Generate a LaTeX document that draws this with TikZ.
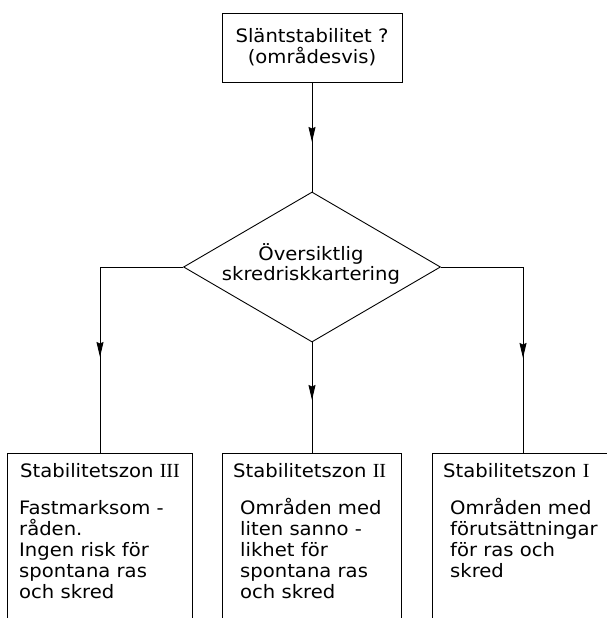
\documentclass[tikz,border=0pt]{standalone}
\usepackage{fontspec}
\setmainfont{DejaVu Sans}[FakeStretch=1.06]
\newfontfamily\numfont{Liberation Serif}
\usetikzlibrary{shapes.geometric,arrows.meta}

\tikzset{
  line/.style={line width=0.9pt},
  arr/.style={line, -{Stealth[length=15pt,width=7pt,inset=1.5pt]}},
  txt/.style={font=\fontsize{18.5}{21}\selectfont, inner sep=0pt},
  lbl/.style={txt, anchor=base west},
  zonebox/.style={minimum height=180pt, inner sep=0pt, anchor=north},
}
\newcommand{\zonenum}[1]{{\numfont\fontsize{20}{21}\selectfont #1}}

\begin{document}
\begin{tikzpicture}[x=1pt,y=-1pt]
\useasboundingbox (0,0) rectangle (607,618);
\clip (0,0) rectangle (607,618);

% question box
\node[draw, line, minimum width=180pt, minimum height=69pt, inner sep=0pt,
      txt, align=center] (start) at (312,47.5) {Släntstabilitet ?\\(områdesvis)};

% decision diamond
\node[diamond, draw, line, minimum width=257pt, minimum height=150pt,
      inner sep=0pt] (survey) at (312,267) {};
\node[txt, font=\fontsize{18.5}{20}\selectfont, align=center] (surveytext)
      at (311,264) {Översiktlig\\skredriskkartering};

% zone boxes, open at the bottom
\node[zonebox, minimum width=184pt] (z3) at (100,453) {};
\node[zonebox, minimum width=178pt] (z2) at (312,453) {};
\node[zonebox, minimum width=180pt] (z1) at (523,453) {};
\foreach \z in {z3,z2,z1}
  \draw[line] (\z.south west) -- (\z.north west) -- (\z.north east) -- (\z.south east);

% connectors: full lines, then the arrowheads placed midway on top
\coordinate (tip0) at (312,142);
\coordinate (tip3) at (100,357);
\coordinate (tip2) at (312,400);
\coordinate (tip1) at (523,358);
\draw[line] (start.south) -- (survey.north);
\draw[line] (survey.west) -| (z3.north);
\draw[line] (survey.south) -- (z2.north);
\draw[line] (survey.east) -| (z1.north);
\draw[arr] (start.south) -- (tip0);
\draw[arr] (survey.west) -| (tip3);
\draw[arr] (survey.south) -- (tip2);
\draw[arr] (survey.east) -| (tip1);

% zone titles
\node[lbl] (t3) at (20,477) {Stabilitetszon \zonenum{III}};
\node[lbl] (t2) at (233,477) {Stabilitetszon \zonenum{II}};
\node[lbl] (t1) at (443,477) {Stabilitetszon \zonenum{I}};

% zone descriptions
\foreach \t [count=\i] in {Fastmarksom -, råden., Ingen risk för, spontana ras, och skred}
  \node[lbl] (d3l\i) at (19,{514+21*(\i-1)}) {\t};
\foreach \t [count=\i] in {Områden med, liten sanno -, likhet för, spontana ras, och skred}
  \node[lbl] (d2l\i) at (240,{514+21*(\i-1)}) {\t};
\foreach \t [count=\i] in {Områden med, förutsättningar, för ras och, skred}
  \node[lbl] (d1l\i) at (450,{514+21*(\i-1)}) {\t};
\end{tikzpicture}
\end{document}
